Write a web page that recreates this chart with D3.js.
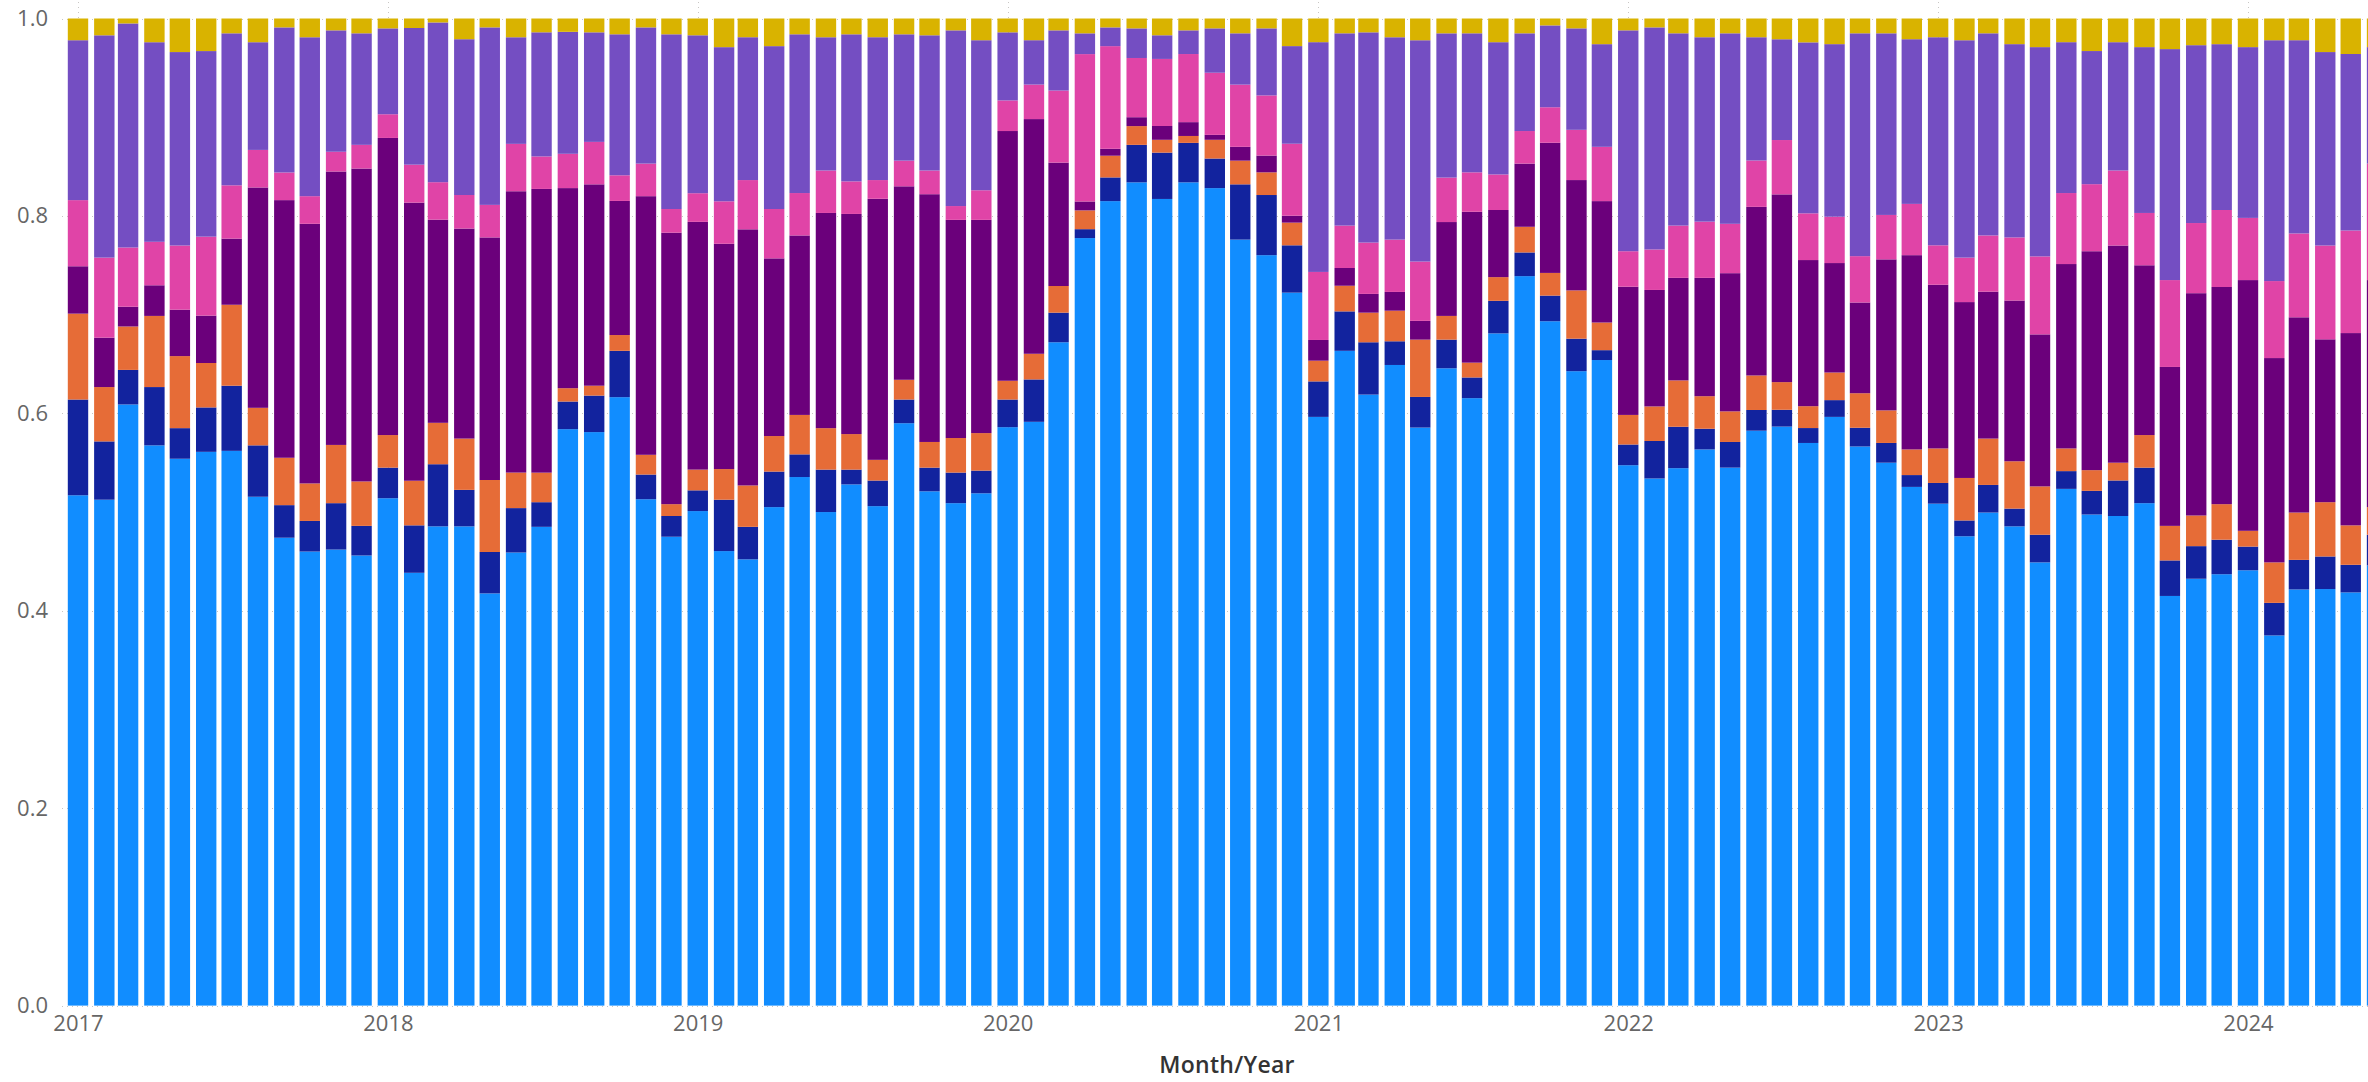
<!DOCTYPE html>
<html>
<head>
<meta charset="utf-8">
<script src="https://cdn.jsdelivr.net/npm/d3@7"></script>
<style>
  html, body { margin: 0; padding: 0; background: #fff; overflow: hidden; }
  text { font-family: "Open Sans", "Noto Sans", sans-serif; }
</style>
</head>
<body>
<svg id="chart" width="2368" height="1082"></svg>
<script>
// Month categories (Jan 2017 – Jun 2024)
const months = [
  "2017-01","2017-02","2017-03","2017-04","2017-05","2017-06","2017-07","2017-08","2017-09","2017-10","2017-11","2017-12",
  "2018-01","2018-02","2018-03","2018-04","2018-05","2018-06","2018-07","2018-08","2018-09","2018-10","2018-11","2018-12",
  "2019-01","2019-02","2019-03","2019-04","2019-05","2019-06","2019-07","2019-08","2019-09","2019-10","2019-11","2019-12",
  "2020-01","2020-02","2020-03","2020-04","2020-05","2020-06","2020-07","2020-08","2020-09","2020-10","2020-11","2020-12",
  "2021-01","2021-02","2021-03","2021-04","2021-05","2021-06","2021-07","2021-08","2021-09","2021-10","2021-11","2021-12",
  "2022-01","2022-02","2022-03","2022-04","2022-05","2022-06","2022-07","2022-08","2022-09","2022-10","2022-11","2022-12",
  "2023-01","2023-02","2023-03","2023-04","2023-05","2023-06","2023-07","2023-08","2023-09","2023-10","2023-11","2023-12",
  "2024-01","2024-02","2024-03","2024-04","2024-05","2024-06"
];

// Monthly shares (%) per series, stacked bottom to top
const series1 = [
  51.7,51.2,60.9,56.7,55.4,56.1,56.2,51.5,47.4,46.0,46.2,45.6,
  51.4,45.6,48.6,48.6,41.8,45.9,48.6,60.5,58.1,61.7,51.3,47.5,
  50.1,46.0,45.3,50.5,53.6,50.0,52.8,50.7,59.0,52.1,50.9,51.9,
  58.6,59.2,67.2,77.6,81.5,83.4,81.8,83.4,82.9,77.6,76.1,72.3,
  59.7,66.4,61.9,64.9,58.5,64.5,61.6,68.1,73.9,69.4,64.4,65.4,
  54.8,53.4,54.5,56.4,54.5,58.3,58.6,56.6,59.7,56.7,55.0,52.6,
  50.9,47.5,50.0,48.6,44.9,52.4,49.8,49.6,50.9,41.5,43.2,43.7,
  44.1,37.5,42.2,42.2,41.9,44.6
];
const series2 = [
  9.7,5.9,3.5,5.9,3.1,4.5,6.6,5.2,3.3,3.1,4.7,3.0,
  3.1,5.0,6.3,3.7,4.2,4.5,2.5,2.9,3.7,4.7,2.5,2.1,
  2.1,5.2,3.3,3.6,2.3,4.3,1.5,2.6,2.4,2.4,3.1,2.3,
  2.8,4.3,3.0,0.9,2.4,3.8,4.7,4.0,3.0,5.6,6.1,4.8,
  3.6,4.0,5.3,2.4,3.1,2.9,2.1,3.3,2.4,2.6,3.3,1.0,
  2.1,3.8,4.2,2.1,2.6,2.1,1.7,1.5,1.7,1.9,2.0,1.2,
  2.1,1.6,2.8,1.8,2.8,1.8,2.4,3.6,3.6,3.6,3.3,3.5,
  2.4,3.3,3.0,3.3,2.8,3.1
];
const series3 = [
  8.7,5.5,4.4,7.2,7.3,4.5,8.2,3.8,4.8,3.8,5.9,4.5,
  3.3,4.7,4.2,5.2,7.3,3.6,3.0,1.4,1.0,1.6,2.0,1.2,
  2.1,3.1,4.2,3.6,4.0,4.2,3.6,2.1,2.0,2.6,3.5,3.8,
  1.9,2.6,2.7,1.9,2.2,1.9,1.3,0.7,1.9,2.4,2.3,2.3,
  2.1,2.6,3.0,3.1,5.8,2.4,1.5,2.4,2.6,2.3,4.9,2.8,
  3.0,3.5,4.7,3.3,3.1,3.5,2.8,2.2,2.8,3.5,3.3,2.6,
  3.5,4.3,4.7,4.8,4.9,2.3,2.1,1.8,3.3,3.5,3.1,3.6,
  1.6,4.1,4.8,5.5,4.0,2.8
];
const series4 = [
  4.8,5.0,2.0,3.1,4.7,4.8,6.7,22.3,26.1,26.3,27.7,31.7,
  30.1,29.3,20.6,21.3,24.6,28.5,28.8,21.0,20.4,13.6,26.2,27.5,
  25.1,22.8,26.0,18.0,18.2,21.8,22.3,26.5,19.6,25.1,22.1,21.6,
  25.3,23.8,12.5,0.9,0.7,0.9,1.4,1.4,0.5,1.4,1.7,0.7,
  2.1,1.8,1.9,1.9,1.9,9.5,15.3,6.8,6.4,13.2,11.2,12.3,
  13.0,11.8,10.4,12.0,14.0,17.1,19.0,14.7,11.1,9.2,15.3,19.7,
  16.6,17.8,14.9,16.3,15.4,18.7,22.2,22.0,17.2,16.1,22.5,22.0,
  25.4,20.7,19.8,16.5,19.5,23.0
];
const series5 = [
  6.7,8.1,6.0,4.4,6.5,8.0,5.4,3.8,2.8,2.8,2.0,2.4,
  2.4,4.0,3.8,3.4,3.3,4.8,3.3,3.6,4.3,2.6,3.3,2.4,
  2.9,4.3,5.0,5.0,4.3,4.3,3.3,1.9,2.6,2.4,1.4,3.0,
  3.1,3.5,7.3,14.9,10.4,6.0,6.8,6.9,6.3,6.3,6.1,7.3,
  6.9,4.3,5.2,5.3,6.0,4.5,4.0,3.6,3.3,3.6,5.1,5.5,
  3.6,4.1,5.3,5.7,5.0,4.7,5.5,4.7,4.7,4.7,4.5,5.2,
  4.0,4.5,5.7,6.4,7.9,7.2,6.8,7.6,5.3,8.8,7.1,7.8,
  6.3,7.8,8.5,9.5,10.4,11.8
];
const series6 = [
  16.2,22.5,22.7,20.2,19.6,18.8,15.4,10.9,14.7,16.1,12.3,11.3,
  8.7,14.4,16.2,15.8,18.0,10.8,12.6,12.8,11.1,14.3,13.8,17.7,
  16.0,15.6,14.5,16.5,16.1,13.5,14.9,14.5,12.8,13.7,17.8,15.2,
  6.9,4.5,6.1,2.1,1.9,3.0,2.4,2.4,4.5,5.2,6.8,9.9,
  23.3,19.5,21.3,20.5,22.4,14.6,14.1,13.4,9.9,8.3,10.3,10.4,
  22.4,22.5,19.5,18.7,19.3,12.5,10.2,17.2,17.5,22.6,18.4,16.7,
  21.1,22.0,20.5,19.6,21.2,15.3,13.5,13.0,16.8,23.4,18.0,16.8,
  17.3,24.4,19.6,19.6,17.9,11.8
];
const series7 = [
  2.2,1.7,0.5,2.4,3.4,3.3,1.5,2.4,0.9,1.9,1.2,1.5,
  1.0,1.0,0.4,2.1,0.9,1.9,1.4,1.4,1.4,1.6,0.9,1.6,
  1.7,2.9,1.9,2.8,1.6,1.9,1.6,1.9,1.6,1.7,1.2,2.2,
  1.4,2.2,1.2,1.5,0.9,1.0,1.7,1.2,1.0,1.5,1.0,2.8,
  2.4,1.5,1.4,1.9,2.2,1.5,1.5,2.4,1.5,0.7,1.0,2.6,
  1.2,0.9,1.5,1.9,1.5,1.9,2.1,2.4,2.6,1.5,1.5,2.1,
  1.9,2.2,1.5,2.6,2.9,2.4,3.3,2.4,2.9,3.1,2.7,2.6,
  2.9,2.2,2.2,3.4,3.6,2.9
];

const seriesKeys = ["series1","series2","series3","series4","series5","series6","series7"];
const seriesColors = ["#118DFF","#12239E","#E66C37","#6B007B","#E044A7","#744EC2","#D9B300"];
const yTickValues = [0, 0.2, 0.4, 0.6, 0.8, 1.0];
const yearTicks = ["2017","2018","2019","2020","2021","2022","2023","2024"];
const xTitle = "Month/Year";

const parseMonth = d3.utcParse("%Y-%m");
const parseYear = d3.utcParse("%Y");
const seriesData = [series1, series2, series3, series4, series5, series6, series7];

const table = months.map((m, i) => {
  const row = { date: parseMonth(m) };
  seriesKeys.forEach((k, j) => { row[k] = seriesData[j][i]; });
  return row;
});

const svg = d3.select("#chart");
const W = 2368, H = 1082;

const x = d3.scaleUtc()
  .domain([parseYear("2017"), parseYear("2024")])
  .range([78, 2248]);
const y = d3.scaleLinear().domain([0, 1]).range([1005.6, 18.5]);
const barW = 20.4;

// gridlines (dotted)
const grid = svg.append("g").attr("stroke", "#C8C6C4").attr("stroke-width", 1)
  .attr("stroke-dasharray", "1,4");
grid.selectAll("line.h").data(yTickValues).join("line")
  .attr("x1", 62).attr("x2", W)
  .attr("y1", d => Math.round(y(d)) + 0.5).attr("y2", d => Math.round(y(d)) + 0.5);
grid.selectAll("line.v").data(yearTicks).join("line")
  .attr("x1", d => Math.round(x(parseYear(d))) + 0.5)
  .attr("x2", d => Math.round(x(parseYear(d))) + 0.5)
  .attr("y1", 2).attr("y2", y(0));

// stacked 100% bars
const stacked = d3.stack().keys(seriesKeys).offset(d3.stackOffsetExpand)(table);

svg.append("g").selectAll("g").data(stacked).join("g")
  .attr("fill", (d, i) => seriesColors[i])
  .selectAll("rect").data(d => d).join("rect")
  .attr("x", d => x(d.data.date) - barW / 2)
  .attr("width", barW)
  .attr("y", d => y(d[1]))
  .attr("height", d => y(d[0]) - y(d[1]));

// y axis
const yAxis = svg.append("g").attr("transform", "translate(48,0)")
  .call(d3.axisLeft(y).tickValues(yTickValues).tickFormat(d3.format(".1f")).tickSize(0).tickPadding(0));
yAxis.select(".domain").remove();
yAxis.selectAll("text").attr("font-size", 22).attr("fill", "#666666")
  .attr("font-family", "'Open Sans', 'Noto Sans', sans-serif");

// x axis
const xAxis = svg.append("g").attr("transform", `translate(0,${y(0)})`)
  .call(d3.axisBottom(x).tickValues(yearTicks.map(parseYear)).tickFormat(d3.utcFormat("%Y")).tickSize(0).tickPadding(10));
xAxis.select(".domain").remove();
xAxis.selectAll("text").attr("font-size", 22).attr("fill", "#666666")
  .attr("font-family", "'Open Sans', 'Noto Sans', sans-serif");

// axis title
svg.append("text")
  .attr("x", 1227).attr("y", 1073)
  .attr("text-anchor", "middle")
  .attr("font-size", 23).attr("font-weight", 600)
  .attr("letter-spacing", 0.3)
  .attr("fill", "#333333")
  .text(xTitle);
</script>
</body>
</html>
